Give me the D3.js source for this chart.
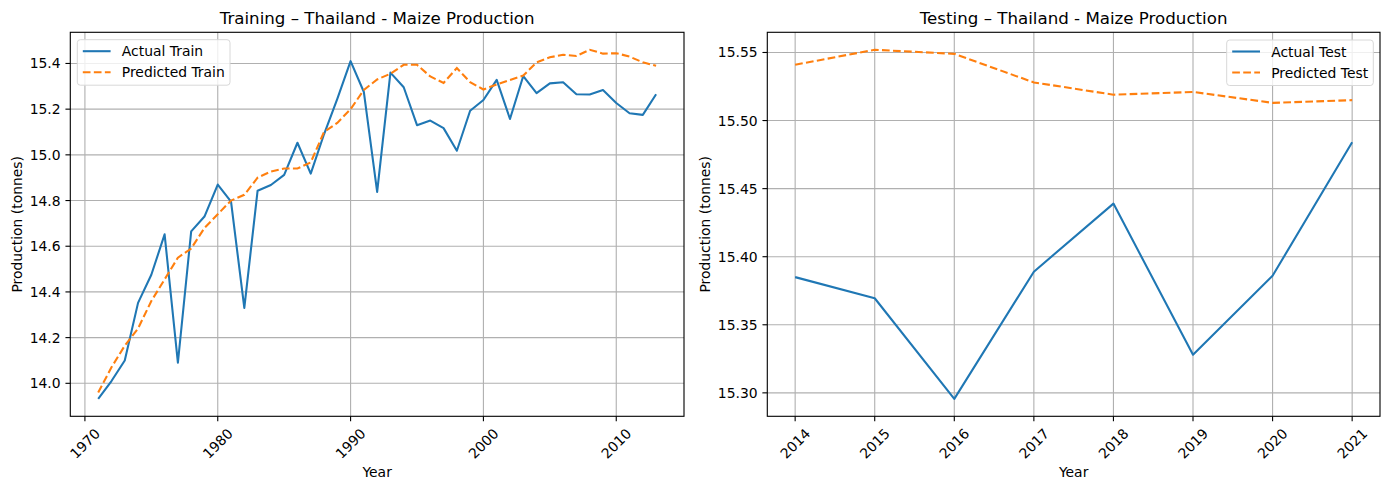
<!DOCTYPE html>
<html><head><meta charset="utf-8">
<script src="https://cdn.jsdelivr.net/npm/d3@7"></script>
<style>body{margin:0;background:#fff}svg{display:block}text{font-family:"DejaVu Sans",sans-serif;fill:#000}</style>
</head><body><svg id="c" width="1390" height="490"></svg>
<script>
const trainYears = [1971,1972,1973,1974,1975,1976,1977,1978,1979,1980,1981,1982,1983,1984,1985,1986,1987,1988,1989,1990,1991,1992,1993,1994,1995,1996,1997,1998,1999,2000,2001,2002,2003,2004,2005,2006,2007,2008,2009,2010,2011,2012,2013];
const actualTrain = [13.932,14.01,14.10,14.352,14.475,14.652,14.09,14.665,14.73,14.87,14.795,14.33,14.843,14.868,14.912,15.053,14.918,15.09,15.245,15.41,15.275,14.838,15.36,15.296,15.13,15.15,15.117,15.018,15.193,15.24,15.328,15.157,15.345,15.27,15.313,15.318,15.265,15.264,15.284,15.227,15.182,15.175,15.265];
const predictedTrain = [13.96,14.07,14.165,14.24,14.36,14.455,14.55,14.59,14.68,14.74,14.80,14.825,14.90,14.927,14.94,14.94,14.967,15.10,15.14,15.20,15.284,15.33,15.355,15.394,15.394,15.343,15.315,15.38,15.318,15.286,15.308,15.328,15.347,15.405,15.427,15.438,15.433,15.46,15.443,15.445,15.43,15.405,15.39];
const testYears = [2014,2015,2016,2017,2018,2019,2020,2021];
const actualTest = [15.385,15.3695,15.2956,15.389,15.439,15.328,15.386,15.484];
const predictedTest = [15.541,15.552,15.549,15.528,15.519,15.521,15.513,15.515];
const trainXTicks = [1970,1980,1990,2000,2010];
const trainYTicks = [14.0,14.2,14.4,14.6,14.8,15.0,15.2,15.4];
const testYTicks = [15.30,15.35,15.40,15.45,15.50,15.55];

const svg = d3.select("#c");
const BLUE = "#1f77b4", ORANGE = "#ff7f0e";
const LW = 2.08, DASH = "7.7,3.33";

function pad(ext){const r=ext[1]-ext[0];return [ext[0]-0.05*r, ext[1]+0.05*r];}

function panel(o){
  const {x0,x1,y0,y1} = o;
  const g = svg.append("g");
  const x = d3.scaleLinear().domain(pad(d3.extent(o.years))).range([x0,x1]);
  const yExt = d3.extent(o.a.concat(o.p));
  const y = d3.scaleLinear().domain(pad(yExt)).range([y1,y0]);
  g.append("g").selectAll("line").data(o.xticks).join("line")
    .attr("x1",d=>x(d)).attr("x2",d=>x(d)).attr("y1",y0).attr("y2",y1)
    .attr("stroke","#b0b0b0").attr("stroke-width",1.11);
  g.append("g").selectAll("line").data(o.yticks).join("line")
    .attr("y1",d=>y(d)).attr("y2",d=>y(d)).attr("x1",x0).attr("x2",x1)
    .attr("stroke","#b0b0b0").attr("stroke-width",1.11);
  const line = (arr)=>d3.line().x((d,i)=>x(o.years[i])).y(d=>y(d))(arr);
  g.append("path").attr("d",line(o.a)).attr("fill","none").attr("stroke",BLUE).attr("stroke-width",LW).attr("stroke-linejoin","round");
  g.append("path").attr("d",line(o.p)).attr("fill","none").attr("stroke",ORANGE).attr("stroke-width",LW)
    .attr("stroke-dasharray",DASH);
  g.append("rect").attr("x",x0).attr("y",y0).attr("width",x1-x0).attr("height",y1-y0)
    .attr("fill","none").attr("stroke","#000").attr("stroke-width",1.11);
  const tl = 4.86;
  g.append("g").selectAll("line").data(o.xticks).join("line")
    .attr("x1",d=>x(d)).attr("x2",d=>x(d)).attr("y1",y1).attr("y2",y1+tl).attr("stroke","#000").attr("stroke-width",1.11);
  g.append("g").selectAll("line").data(o.yticks).join("line")
    .attr("y1",d=>y(d)).attr("y2",d=>y(d)).attr("x1",x0-tl).attr("x2",x0).attr("stroke","#000").attr("stroke-width",1.11);
  g.append("g").selectAll("text").data(o.yticks).join("text")
    .attr("x",x0-tl-4.86).attr("y",d=>y(d)).attr("text-anchor","end").attr("dominant-baseline","central")
    .attr("font-size",13.9).text(d=>d3.format(o.yfmt)(d));
  const fs=13.9, h=fs*1.0;
  o.xticks.forEach(d=>{
    const t = g.append("text").attr("font-size",fs).attr("text-anchor","middle").attr("dominant-baseline","central").text(String(d));
    const w = t.node().getComputedTextLength();
    const s = (w+h)/(2*Math.SQRT2);
    t.attr("transform",`translate(${x(d)},${y1+tl+4.86+s}) rotate(-45)`);
  });
  g.append("text").attr("x",(x0+x1)/2).attr("y",y0-8.3).attr("text-anchor","middle").attr("font-size",16.67).text(o.title);
  g.append("text").attr("x",(x0+x1)/2).attr("y",472).attr("text-anchor","middle").attr("dominant-baseline","central").attr("font-size",13.9).text("Year");
  g.append("text").attr("transform",`translate(${o.ylx},${(y0+y1)/2}) rotate(-90)`).attr("text-anchor","middle").attr("dominant-baseline","central").attr("font-size",13.9).text("Production (tonnes)");
  const L = o.legend;
  const lg = g.append("g");
  lg.append("rect").attr("x",L.x).attr("y",L.y).attr("width",L.w).attr("height",45.5).attr("rx",3)
    .attr("fill","rgba(255,255,255,0.8)").attr("stroke","#d8d8d8").attr("stroke-width",1);
  const items=[[o.names[0],BLUE,null],[o.names[1],ORANGE,DASH]];
  items.forEach((it,i)=>{
    const cy = L.y+11.5+i*21;
    lg.append("line").attr("x1",L.x+5.5).attr("x2",L.x+33.3).attr("y1",cy).attr("y2",cy)
      .attr("stroke",it[1]).attr("stroke-width",LW).attr("stroke-dasharray",it[2]);
    lg.append("text").attr("x",L.x+44.5).attr("y",cy).attr("dominant-baseline","central").attr("font-size",13.9).text(it[0]);
  });
}

panel({x0:70.3,x1:684,y0:32.3,y1:416.3,years:trainYears,a:actualTrain,p:predictedTrain,
  xticks:trainXTicks,yticks:trainYTicks,yfmt:".1f",title:"Training \u2013 Thailand - Maize Production",
  ylx:17,legend:{x:77.3,y:39.7,w:152.7},names:["Actual Train","Predicted Train"]});
panel({x0:767.3,x1:1380,y0:32.3,y1:416.3,years:testYears,a:actualTest,p:predictedTest,
  xticks:testYears,yticks:testYTicks,yfmt:".2f",title:"Testing \u2013 Thailand - Maize Production",
  ylx:705,legend:{x:1226.7,y:40,w:146.6},names:["Actual Test","Predicted Test"]});
</script></body></html>
